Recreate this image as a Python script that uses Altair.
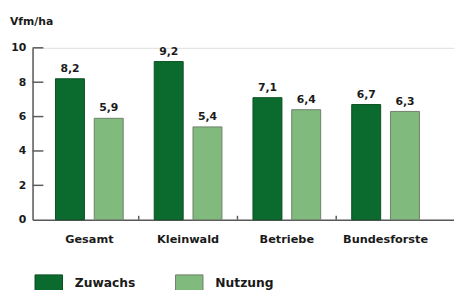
import altair as alt
import pandas as pd

categories = ["Gesamt", "Kleinwald", "Betriebe", "Bundesforste"]
series = ["Zuwachs", "Nutzung"]
zuwachs = [8.2, 9.2, 7.1, 6.7]
nutzung = [5.9, 5.4, 6.4, 6.3]
y_ticks = [0, 2, 4, 6, 8, 10]
unit_label = "Vfm/ha"

rows = []
for c, z, n in zip(categories, zuwachs, nutzung):
    rows.append({"cat": c, "serie": "Zuwachs", "v": z})
    rows.append({"cat": c, "serie": "Nutzung", "v": n})
df = pd.DataFrame(rows)
df["label"] = df["v"].map(lambda v: f"{v:.1f}".replace(".", ","))

FONT = "DejaVu Sans"
TXT = "#1a1a1a"
AX = "#5a5a5a"

xscale = alt.Scale(domain=categories, paddingInner=0, paddingOuter=0.134, align=0.28)
yscale = alt.Scale(domain=[0, 10], nice=False)
offscale = alt.Scale(domain=series, paddingInner=0.253, paddingOuter=0.4)

bars = alt.Chart(df).mark_bar(strokeWidth=1).encode(
    x=alt.X("cat:N", scale=xscale, sort=categories, title=None),
    xOffset=alt.XOffset("serie:N", scale=offscale, sort=series),
    y=alt.Y("v:Q", scale=yscale, title=None),
    fill=alt.Fill("serie:N", sort=series,
                  scale=alt.Scale(domain=series, range=["#0b6b2e", "#80ba7c"]),
                  legend=alt.Legend(title=None, orient="none", legendX=2, legendY=225,
                                    direction="horizontal", columns=2, columnPadding=38,
                                    symbolType="M-1,-0.6H1V0.6H-1Z", symbolSize=784,
                                    symbolStrokeWidth=1, labelOffset=12, padding=0,
                                    labelFont=FONT, labelFontWeight="bold",
                                    labelFontSize=12.5, labelColor=TXT)),
    stroke=alt.Stroke("serie:N", sort=series,
                      scale=alt.Scale(domain=series, range=["#0a4f22", "#6f806c"]),
                      legend=None),
)

values = alt.Chart(df).mark_text(baseline="alphabetic", dy=-7, font=FONT,
                                 fontWeight="bold", fontSize=11, color=TXT).encode(
    x=alt.X("cat:N", scale=xscale, sort=categories, title=None),
    xOffset=alt.XOffset("serie:N", scale=offscale, sort=series),
    y=alt.Y("v:Q", scale=yscale, title=None),
    text="label:N",
)

ytick_df = pd.DataFrame({"v": y_ticks[1:]})
yticks = alt.Chart(ytick_df).mark_rule(color=AX, strokeWidth=1.5).encode(
    y=alt.Y("v:Q", scale=yscale, title=None),
    x=alt.value(0),
    x2=alt.value(11),
)

xtick_df = pd.DataFrame({"cat": categories[1:]})
xticks = alt.Chart(xtick_df).mark_rule(color=AX, strokeWidth=1.5).encode(
    x=alt.X("cat:N", scale=xscale, sort=categories, bandPosition=0, title=None),
    y=alt.value(175),
    y2=alt.value(171),
)

title_df = pd.DataFrame({"t": [unit_label]})
title = alt.Chart(title_df).mark_text(align="left", baseline="alphabetic", font=FONT,
                                      fontWeight="bold", fontSize=11, color=TXT).encode(
    x=alt.value(-23),
    y=alt.value(-23),
    text="t:N",
)

chart = alt.layer(bars, values, yticks, xticks, title).properties(
    width=429, height=175,
    padding={"left": 25, "top": 38, "right": 0, "bottom": 69},
    autosize="none",
).configure_view(stroke=None).configure(background="white").configure_axisX(
    labelAngle=0, ticks=False, domainColor=AX, domainWidth=1.5, labelFont=FONT,
    labelFontWeight="bold", labelFontSize=11.5, labelColor=TXT, labelPadding=14,
    grid=False,
).configure_axisY(
    values=y_ticks, ticks=False, grid=False, domainColor=AX, domainWidth=1.5,
    labelFont=FONT, labelFontWeight="bold", labelFontSize=11, labelColor=TXT,
    labelPadding=7,
)

chart.save("out.html", embed_options={"renderer": "svg", "actions": False})
